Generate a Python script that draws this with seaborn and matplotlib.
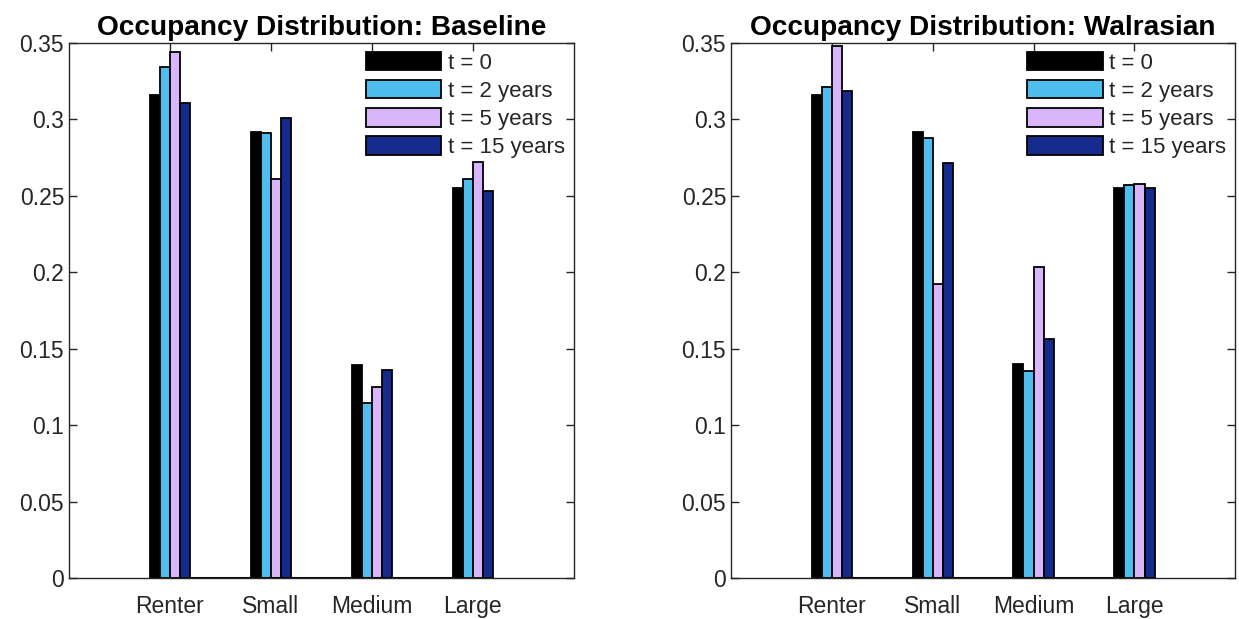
import numpy as np
import pandas as pd
import matplotlib
matplotlib.use("Agg")
import matplotlib.pyplot as plt
import seaborn as sns

# house types and time horizons
categories = ["Renter", "Small", "Medium", "Large"]
periods = ["t = 0", "t = 2 years", "t = 5 years", "t = 15 years"]
bar_colors = ["#000000", "#4DBEEE", "#D9B5FB", "#142A8C"]

# occupancy shares
baseline_t0 = [0.316, 0.292, 0.1396, 0.255]
baseline_t2 = [0.3345, 0.291, 0.1147, 0.261]
baseline_t5 = [0.344, 0.2608, 0.1248, 0.2719]
baseline_t15 = [0.311, 0.3007, 0.1361, 0.2534]

walras_t0 = [0.316, 0.292, 0.1398, 0.2549]
walras_t2 = [0.3214, 0.2876, 0.1354, 0.2569]
walras_t5 = [0.3483, 0.1921, 0.2033, 0.258]
walras_t15 = [0.3186, 0.2713, 0.1564, 0.2553]

sns.set_style("white")
plt.rcParams['font.family'] = ['Liberation Sans', 'DejaVu Sans']

axis_col = "#262626"


def to_frame(series):
    rows = []
    for period, vals in zip(periods, series):
        for cat, v in zip(categories, vals):
            rows.append({"type": cat, "period": period, "share": v})
    return pd.DataFrame(rows)


panels = [
    ("Occupancy Distribution: Baseline",
     to_frame([baseline_t0, baseline_t2, baseline_t5, baseline_t15])),
    ("Occupancy Distribution: Walrasian",
     to_frame([walras_t0, walras_t2, walras_t5, walras_t15])),
]

fig = plt.figure(figsize=(12.39, 6.19), dpi=100)
ax_boxes = [[0.0557, 0.0662, 0.4075, 0.8643],
            [0.5900, 0.0662, 0.4070, 0.8643]]

for (title, df), box in zip(panels, ax_boxes):
    ax = fig.add_axes(box)
    sns.barplot(data=df, x="type", y="share", hue="period",
                order=categories, hue_order=periods, palette=bar_colors,
                saturation=1, width=0.4, edgecolor="black", linewidth=1.3,
                ax=ax, legend=False)

    # thick baseline between the first and last groups (zero-height bars in the original)
    n = len(categories)
    first_right = ax.patches[-n].get_x() + ax.patches[-n].get_width()
    last_left = ax.patches[n - 1].get_x()
    ax.plot([first_right, last_left], [0, 0], color="black", lw=2.2, zorder=1)

    ax.set_xlim(-1, 4)
    ax.set_ylim(0, 0.35)
    ax.set_yticks(np.arange(0, 0.351, 0.05))
    ax.set_yticklabels(["0", "0.05", "0.1", "0.15", "0.2", "0.25", "0.3", "0.35"])
    ax.set_xlabel("")
    ax.set_ylabel("")
    ax.set_title(title, fontsize=20.2, fontweight="bold", color="black", pad=6)

    for s in ax.spines.values():
        s.set_visible(True)
        s.set_color(axis_col)
        s.set_linewidth(1.0)
    ax.tick_params(direction="in", top=True, right=True, bottom=True, left=True,
                   length=6, width=1.0, color=axis_col, labelcolor=axis_col,
                   labelsize=16.5)
    ax.tick_params(axis="x", pad=12)

    handles = [plt.Rectangle((0, 0), 1, 1, facecolor=c, edgecolor="black", linewidth=1.3)
               for c in bar_colors]
    ax.legend(handles, periods, loc="upper right", frameon=False, fontsize=16,
              handlelength=3.4, handleheight=0.9, handletextpad=0.3,
              labelspacing=0.28, borderaxespad=0.0,
              bbox_to_anchor=(1.0, 1.0))

fig.savefig("out.png", dpi=100)
